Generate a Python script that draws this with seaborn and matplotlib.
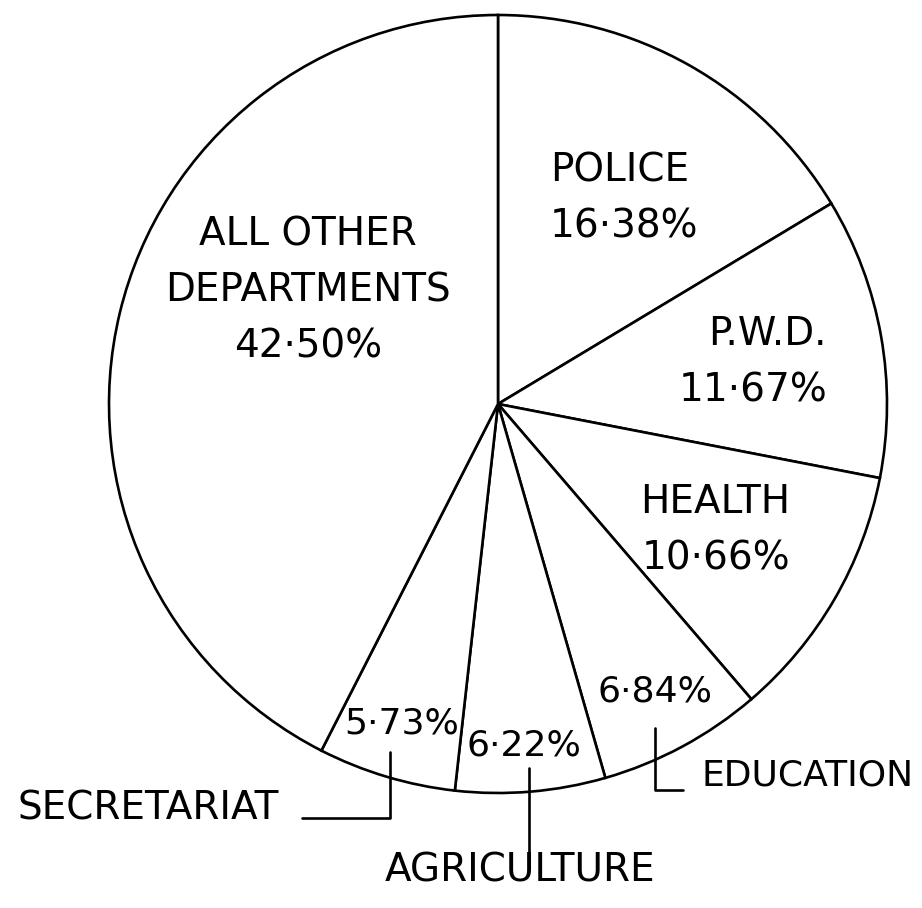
import matplotlib
matplotlib.use("Agg")
import matplotlib.pyplot as plt
import seaborn as sns

# Share of expenditure by department (clockwise from 12 o'clock)
departments = ["POLICE", "P.W.D.", "HEALTH", "EDUCATION", "AGRICULTURE",
               "SECRETARIAT", "ALL OTHER\nDEPARTMENTS"]
shares = [16.38, 11.67, 10.66, 6.84, 6.22, 5.73, 42.50]

W, H = 922, 908


def pct(v):
    return f"{v:.2f}".replace(".", "\u00b7") + "%"


def main():
    sns.set_theme(style="white")
    plt.rcParams["font.family"] = ["DejaVu Sans"]

    fig = plt.figure(figsize=(W / 100, H / 100), dpi=100)
    ax = fig.add_axes([0, 0, 1, 1])

    # pie centre / radius in pixel units (y measured from the bottom)
    cx, cy, r = 498, H - 404, 389
    ax.pie(
        shares,
        startangle=90,
        counterclock=False,
        center=(cx, cy),
        radius=r,
        colors=["white"] * len(shares),
        wedgeprops=dict(edgecolor="black", linewidth=1.9),
    )
    ax.set_xlim(0, W)
    ax.set_ylim(0, H)
    ax.set_aspect("equal")
    ax.axis("off")

    fs = 28
    kw = dict(fontsize=fs, color="black", linespacing=1.6)
    small = dict(fontsize=26, color="black")
    Y = lambda y: H - y

    # labels inside the big wedges
    ax.text(308, Y(291), f"{departments[6]}\n{pct(shares[6])}", ha="center", va="center", **kw)
    ax.text(550, Y(199), f"{departments[0]}\n{pct(shares[0])}", ha="left", va="center", **kw)
    ax.text(827, Y(362), f"{departments[1]}\n{pct(shares[1])}", ha="right", va="center", **kw)
    ax.text(790, Y(530), f"{departments[2]}\n{pct(shares[2])}", ha="right", va="center", **kw)

    # percentages in the narrow wedges
    ax.text(655, Y(691), pct(shares[3]), ha="center", va="center", **small)
    ax.text(524, Y(746), pct(shares[4]), ha="center", va="center", **small)
    ax.text(402, Y(724), pct(shares[5]), ha="center", va="center", **small)

    # outside names with leader lines
    lw = 1.9
    ax.text(148, Y(808), departments[5], ha="center", va="center", **kw)
    ax.plot([302, 390, 390], [Y(818), Y(818), Y(752)], color="black", lw=lw)

    ax.text(520, Y(871), departments[4], ha="center", va="center", **kw)
    ax.plot([529, 529], [Y(768), Y(858)], color="black", lw=lw)

    ax.text(914, Y(776), departments[3], ha="right", va="center", **small)
    ax.plot([655, 655, 683], [Y(728), Y(790), Y(790)], color="black", lw=lw)

    fig.savefig("out.png", dpi=100, facecolor="white")
    plt.close(fig)


if __name__ == "__main__":
    main()
